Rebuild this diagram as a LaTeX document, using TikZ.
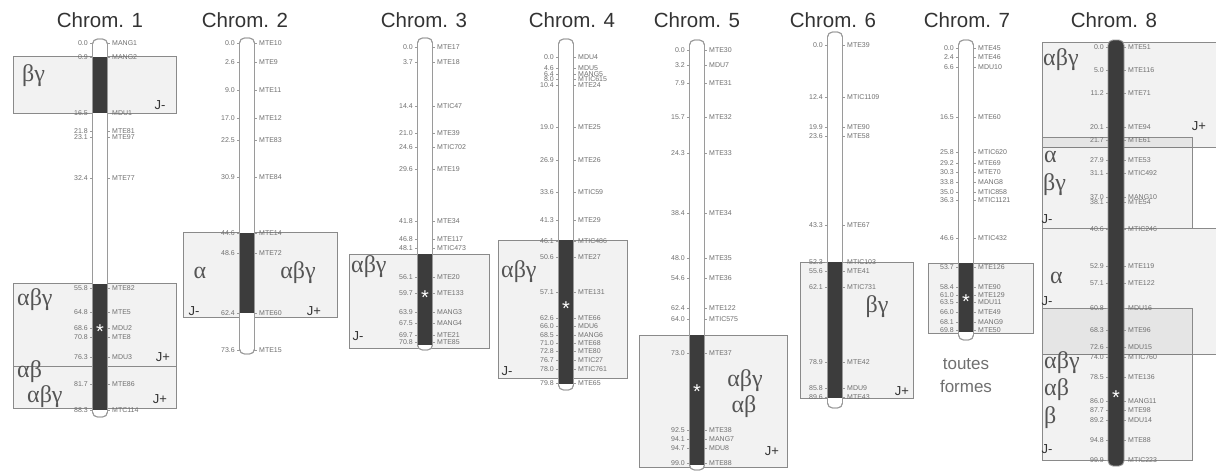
\documentclass[tikz,border=0pt]{standalone}
\usepackage{fontspec}
\setmainfont{Liberation Sans}
\newfontfamily\grk{Liberation Serif}
\usetikzlibrary{positioning}
\definecolor{barDark}{HTML}{3C3C3C}
\definecolor{barLine}{HTML}{9A9A9A}
\definecolor{boxLine}{HTML}{8A8A8A}
\definecolor{textMuted}{HTML}{707070}
\definecolor{titleGray}{HTML}{333333}
\definecolor{greekGray}{HTML}{555555}

\begin{document}
\begin{tikzpicture}[x=1pt, y=-1pt,
    every node/.style={inner sep=0pt},
    title/.style={font=\fontsize{20.5}{20.5}\selectfont, text=titleGray},
    mk/.style={font=\fontsize{7}{7}\selectfont, text=textMuted},
    grp/.style={font=\grk\fontsize{24}{24}\selectfont, text=greekGray},
    jlab/.style={font=\fontsize{13}{13}\selectfont, text=titleGray},
    zone/.style={draw=boxLine, line width=0.8pt, fill=black, fill opacity=0.05},
    tick/.style={draw=barLine, line width=0.5pt},
    chrbar/.style={draw=barLine, line width=0.9pt, rounded corners=5pt},
    ast/.style={text=white, font=\fontsize{20}{20}\selectfont, yshift=-4.5pt}]
  \fill[white] (0,0) rectangle (1216,472);
  \useasboundingbox (0,0) rectangle (1216,472);

  % zones
  \draw[zone] (13,56) rectangle (176,113);
  \draw[zone] (13,283) rectangle (176,366);
  \draw[zone] (13,366) rectangle (176,408);
  \draw[zone] (183,232) rectangle (337,317);
  \draw[zone] (349,254) rectangle (489,348);
  \draw[zone] (498,240) rectangle (627,378);
  \draw[zone] (639,335) rectangle (787,467);
  \draw[zone] (800,262) rectangle (913,398);
  \draw[zone] (928,263) rectangle (1033,333);
  \draw[zone] (1042,42) rectangle (1222,147);
  \draw[zone] (1042,137) rectangle (1192,228);
  \draw[zone] (1042,228) rectangle (1222,354);
  \draw[zone] (1042,308) rectangle (1192,460);

  % markers
  \foreach \y/\cm/\lab [count=\i] in {43/0.0/MANG1, 57/0.9/MANG2, 113/16.5/MDU1,
      131/21.8/MTE81, 137/23.1/MTE97, 178/32.4/MTE77, 288/55.8/MTE82, 312/64.8/MTE5,
      328/68.6/MDU2, 337/70.8/MTE8, 357/76.3/MDU3, 384/81.7/MTE86, 410/88.3/MTC114}{
    \draw[tick] (90,\y) -- (110,\y);
    \node[mk, anchor=east] (c1p\i) at (88,\y) {\cm};
    \node[mk, anchor=west] (c1m\i) at (112,\y) {\lab};
  }
  \foreach \y/\cm/\lab [count=\i] in {43/0.0/MTE10, 62/2.6/MTE9, 90/9.0/MTE11,
      118/17.0/MTE12, 140/22.5/MTE83, 177/30.9/MTE84, 233/44.6/MTE14, 253/48.6/MTE72,
      313/62.4/MTE60, 350/73.6/MTE15}{
    \draw[tick] (237,\y) -- (257,\y);
    \node[mk, anchor=east] (c2p\i) at (235,\y) {\cm};
    \node[mk, anchor=west] (c2m\i) at (259,\y) {\lab};
  }
  \foreach \y/\cm/\lab [count=\i] in {47/0.0/MTE17, 62/3.7/MTE18, 106/14.4/MTIC47,
      133/21.0/MTE39, 147/24.6/MTIC702, 169/29.6/MTE19, 221/41.8/MTE34, 239/46.8/MTE117,
      248/48.1/MTIC473, 277/56.1/MTE20, 293/59.7/MTE133, 312/63.9/MANG3, 323/67.5/MANG4,
      335/69.7/MTE21, 342/70.8/MTE85}{
    \draw[tick] (415,\y) -- (435,\y);
    \node[mk, anchor=east] (c3p\i) at (413,\y) {\cm};
    \node[mk, anchor=west] (c3m\i) at (437,\y) {\lab};
  }
  \foreach \y/\cm/\lab [count=\i] in {57/0.0/MDU4, 68/4.6/MDU5, 74/6.4/MANG5,
      79/8.0/MTIC615, 85/10.4/MTE24, 127/19.0/MTE25, 160/26.9/MTE26, 192/33.6/MTIC59,
      220/41.3/MTE29, 241/46.1/MTIC486, 257/50.6/MTE27, 292/57.1/MTE131, 318/62.6/MTE66,
      326/66.0/MDU6, 335/68.5/MANG6, 343/71.0/MTE68, 351/72.8/MTE80, 360/76.7/MTIC27,
      369/78.0/MTIC761, 383/79.8/MTE65}{
    \draw[tick] (556,\y) -- (576,\y);
    \node[mk, anchor=east] (c4p\i) at (554,\y) {\cm};
    \node[mk, anchor=west] (c4m\i) at (578,\y) {\lab};
  }
  \foreach \y/\cm/\lab [count=\i] in {50/0.0/MTE30, 65/3.2/MDU7, 83/7.9/MTE31,
      117/15.7/MTE32, 153/24.3/MTE33, 213/38.4/MTE34, 258/48.0/MTE35, 278/54.6/MTE36,
      308/62.4/MTE122, 319/64.0/MTIC575, 353/73.0/MTE37, 430/92.5/MTE38, 439/94.1/MANG7,
      448/94.7/MDU8, 463/99.0/MTE88}{
    \draw[tick] (687,\y) -- (707,\y);
    \node[mk, anchor=east] (c5p\i) at (685,\y) {\cm};
    \node[mk, anchor=west] (c5m\i) at (709,\y) {\lab};
  }
  \foreach \y/\cm/\lab [count=\i] in {45/0.0/MTE39, 97/12.4/MTIC1109, 127/19.9/MTE90,
      136/23.6/MTE58, 225/43.3/MTE67, 262/52.3/MTIC103, 271/55.6/MTE41,
      287/62.1/MTIC731, 362/78.9/MTE42, 388/85.8/MDU9, 397/89.6/MTE43}{
    \draw[tick] (825,\y) -- (845,\y);
    \node[mk, anchor=east] (c6p\i) at (823,\y) {\cm};
    \node[mk, anchor=west] (c6m\i) at (847,\y) {\lab};
  }
  \foreach \y/\cm/\lab [count=\i] in {48/0.0/MTE45, 57/2.4/MTE46, 67/6.6/MDU10,
      117/16.5/MTE60, 152/25.8/MTIC620, 163/29.2/MTE69, 172/30.3/MTE70, 182/33.8/MANG8,
      192/35.0/MTIC858, 200/36.3/MTIC1121, 238/46.6/MTIC432, 267/53.7/MTE126,
      287/58.4/MTE90, 295/61.0/MTE129, 302/63.5/MDU11, 312/66.0/MTE49, 322/68.1/MANG9,
      330/69.8/MTE50}{
    \draw[tick] (956,\y) -- (976,\y);
    \node[mk, anchor=east] (c7p\i) at (954,\y) {\cm};
    \node[mk, anchor=west] (c7m\i) at (978,\y) {\lab};
  }
  \foreach \y/\cm/\lab [count=\i] in {47/0.0/MTE51, 70/5.0/MTE116, 93/11.2/MTE71,
      127/20.1/MTE94, 140/21.7/MTE61, 160/27.9/MTE53, 173/31.1/MTIC492, 197/37.0/MANG10,
      202/38.1/MTE54, 229/40.6/MTIC246, 266/52.9/MTE119, 283/57.1/MTE122, 308/60.8/MDU16,
      330/68.3/MTE96, 347/72.6/MDU15, 357/74.0/MTIC760, 377/78.5/MTE136, 401/86.0/MANG11,
      410/87.7/MTE98, 420/89.2/MDU14, 440/94.8/MTE88, 460/99.9/MTIC223}{
    \draw[tick] (1106,\y) -- (1126,\y);
    \node[mk, anchor=east] (c8p\i) at (1104,\y) {\cm};
    \node[mk, anchor=west] (c8m\i) at (1128,\y) {\lab};
  }

  % chromosomes
  \draw[chrbar, fill=white] (92.5,39) rectangle (107.5,417);
  \fill[barDark] (92.5,57) rectangle (107.5,113);
  \fill[barDark] (92.5,284) rectangle (107.5,410);
  \draw[chrbar] (92.5,39) rectangle (107.5,417);

  \draw[chrbar, fill=white] (239.5,38) rectangle (254.5,354);
  \fill[barDark] (239.5,233) rectangle (254.5,313);
  \draw[chrbar] (239.5,38) rectangle (254.5,354);

  \draw[chrbar, fill=white] (417.5,38) rectangle (432.5,350);
  \fill[barDark] (417.5,254) rectangle (432.5,345);
  \draw[chrbar] (417.5,38) rectangle (432.5,350);

  \draw[chrbar, fill=white] (558.5,39) rectangle (573.5,390);
  \fill[barDark] (558.5,240) rectangle (573.5,384);
  \draw[chrbar] (558.5,39) rectangle (573.5,390);

  \draw[chrbar, fill=white] (689.5,40) rectangle (704.5,470);
  \fill[barDark] (689.5,335) rectangle (704.5,465);
  \draw[chrbar] (689.5,40) rectangle (704.5,470);

  \draw[chrbar, fill=white] (827.5,32) rectangle (842.5,408);
  \fill[barDark] (827.5,262) rectangle (842.5,398);
  \draw[chrbar] (827.5,32) rectangle (842.5,408);

  \draw[chrbar, fill=white] (958.5,40) rectangle (973.5,340);
  \fill[barDark] (958.5,263) rectangle (973.5,332);
  \draw[chrbar] (958.5,40) rectangle (973.5,340);

  \draw[chrbar, fill=barDark] (1108,40) rectangle (1124,466);

  % centromeres
  \node[ast] (s1) at (100,327) {*};
  \node[ast] (s3) at (425,293) {*};
  \node[ast] (s4) at (566,304) {*};
  \node[ast] (s5) at (697,387) {*};
  \node[ast] (s7) at (966,297) {*};
  \node[ast] (s8) at (1116,393) {*};

  % titles
  \node[title] (t1) at (100,20) {Chrom. 1};
  \node[title] (t2) at (245,20) {Chrom. 2};
  \node[title] (t3) at (424,20) {Chrom. 3};
  \node[title] (t4) at (572,20) {Chrom. 4};
  \node[title] (t5) at (697,20) {Chrom. 5};
  \node[title] (t6) at (833,20) {Chrom. 6};
  \node[title] (t7) at (967,20) {Chrom. 7};
  \node[title] (t8) at (1114,20) {Chrom. 8};

  % forms
  \node[grp, anchor=west] (g1a) at (22,76) {βγ};
  \node[grp, anchor=west] (g1b) at (17,300) {αβγ};
  \node[grp, anchor=west] (g1c) at (17,372) {αβ};
  \node[grp, anchor=west] (g1d) at (27,397) {αβγ};
  \node[grp] (g2a) at (200,273) {α};
  \node[grp] (g2b) at (298,273) {αβγ};
  \node[grp, anchor=west] (g3a) at (351,267) {αβγ};
  \node[grp, anchor=west] (g4a) at (501,272) {αβγ};
  \node[grp] (g5a) at (745,381) {αβγ};
  \node[grp] (g5b) at (744,407) {αβ};
  \node[grp] (g6a) at (877,307) {βγ};
  \node[grp, anchor=west] (g8a) at (1043,60) {αβγ};
  \node[grp, anchor=west] (g8b) at (1044,157) {α};
  \node[grp, anchor=west] (g8c) at (1043,185) {βγ};
  \node[grp, anchor=west] (g8d) at (1050,278) {α};
  \node[grp, anchor=west] (g8e) at (1044,363) {αβγ};
  \node[grp, anchor=west] (g8f) at (1044,390) {αβ};
  \node[grp, anchor=west] (g8g) at (1044,418) {β};
  \node[title, text=textMuted, font=\fontsize{17}{17}\selectfont] (f7a) at (966,364) {toutes};
  \node[title, text=textMuted, font=\fontsize{17}{17}\selectfont] (f7b) at (966,386) {formes};

  % J labels
  \node[jlab] (j1a) at (160,105) {J-};
  \node[jlab] (j1b) at (163,357) {J+};
  \node[jlab] (j1c) at (160,399) {J+};
  \node[jlab] (j2a) at (194,311) {J-};
  \node[jlab] (j2b) at (314,311) {J+};
  \node[jlab] (j3a) at (358,336) {J-};
  \node[jlab] (j4a) at (507,371) {J-};
  \node[jlab] (j5a) at (772,451) {J+};
  \node[jlab] (j6a) at (902,391) {J+};
  \node[jlab] (j8a) at (1199,126) {J+};
  \node[jlab] (j8b) at (1047,219) {J-};
  \node[jlab] (j8c) at (1047,301) {J-};
  \node[jlab] (j8d) at (1047,449) {J-};
\end{tikzpicture}
\end{document}
